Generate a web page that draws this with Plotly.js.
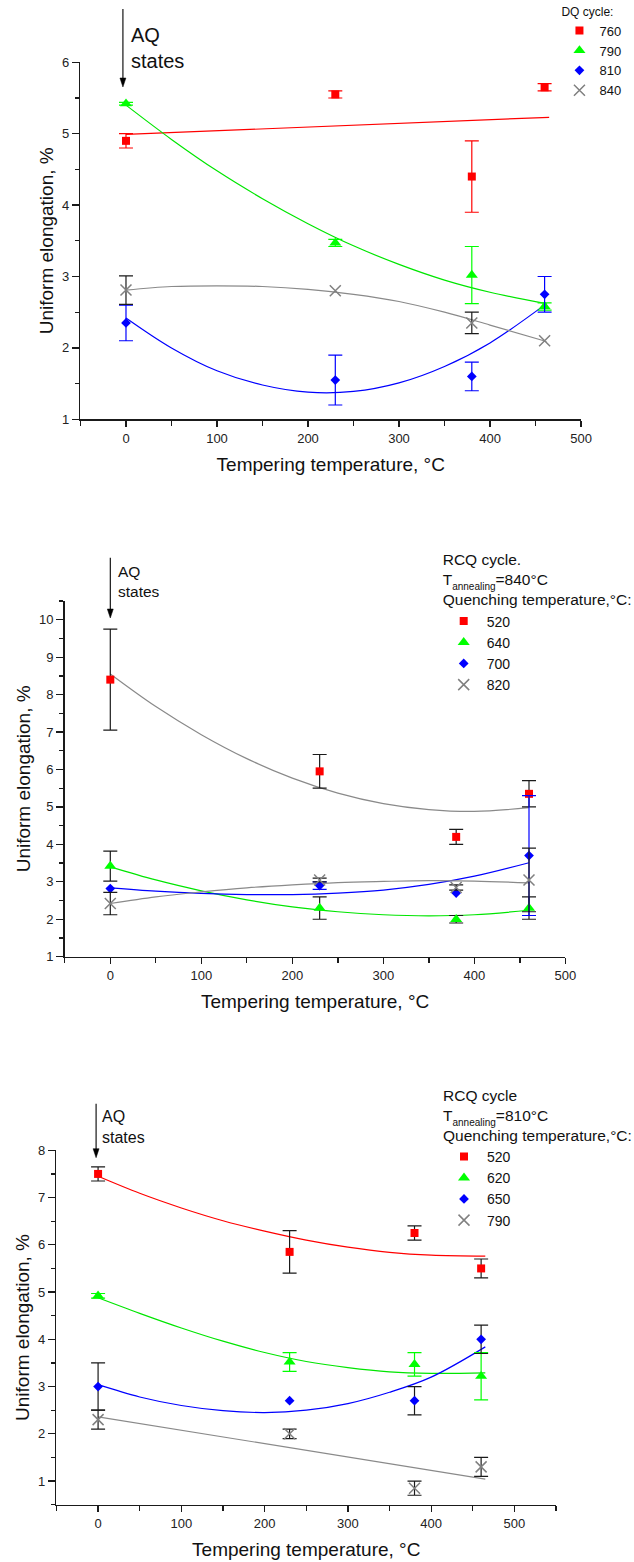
<!DOCTYPE html>
<html>
<head>
<meta charset="utf-8">
<script src="https://cdn.plot.ly/plotly-3.0.1.min.js"></script>
<style>
html,body{margin:0;padding:0;background:#fff}
#chart{width:634px;height:1562px}
</style>
</head>
<body>
<div id="chart"></div>
<script>
// ---------- data ----------
const temps = [0, 230, 380, 460];           // tempering temperature, °C

// Panel 1: DQ cycle
const dqNames = ['760', '790', '810', '840'];
const dq760 = [4.9, 5.55, 4.4, 5.65];
const dq760Err = [0.1, 0.05, 0.5, 0.05];
const dq790 = [5.42, 3.47, 3.02, 2.58];
const dq790Err = [0.02, 0.05, 0.4, 0.05];
const dq810 = [2.35, 1.55, 1.6, 2.75];
const dq810Err = [0.25, 0.35, 0.2, 0.25];
const dq840 = [2.81, 2.8, 2.35, 2.1];
const dq840Err = [0.2, NaN, 0.15, NaN];
// fitted curves
const fit760X = [0, 465];
const fit760Y = [4.99, 5.23];
const fitGrid1 = [0, 50, 100, 150, 200, 250, 300, 350, 400, 462];
const fit790Y = [5.40, 4.92, 4.48, 4.09, 3.74, 3.43, 3.17, 2.95, 2.78, 2.62];
const fit810Y = [2.42, 2.00, 1.68, 1.48, 1.38, 1.39, 1.51, 1.74, 2.07, 2.62];
const fit840Y = [2.81, 2.86, 2.87, 2.86, 2.82, 2.75, 2.65, 2.50, 2.32, 2.09];

// Panel 2: RCQ cycle, T annealing = 840 °C
const rcq840Names = ['520', '640', '700', '820'];
const a840q520 = [8.4, 5.95, 4.2, 5.35];
const a840q520Err = [1.35, 0.45, 0.2, 0.35];
const a840q640 = [3.42, 2.3, 2.0, 2.3];
const a840q640Err = [0.4, 0.3, 0.1, 0.3];
const a840q700 = [2.82, 2.9, 2.7, 3.7];
const a840q700Err = [NaN, 0.1, NaN, 1.6];
const a840q820 = [2.42, 3.05, 2.85, 3.05];
const a840q820Err = [0.3, 0.05, 0.07, 0.85];
const fitGrid2 = [0, 50, 100, 150, 200, 250, 300, 350, 400, 460];
const fitA840q520 = [8.55, 7.68, 6.93, 6.29, 5.77, 5.37, 5.09, 4.93, 4.88, 4.98];
const fitA840q640 = [3.40, 3.05, 2.76, 2.52, 2.33, 2.20, 2.12, 2.09, 2.12, 2.24];
const fitA840q700 = [2.84, 2.75, 2.69, 2.66, 2.66, 2.70, 2.78, 2.93, 3.15, 3.51];
const fitA840q820 = [2.42, 2.60, 2.73, 2.84, 2.92, 2.98, 3.01, 3.03, 3.02, 2.97];

// Panel 3: RCQ cycle, T annealing = 810 °C
const rcq810Names = ['520', '620', '650', '790'];
const a810q520 = [7.5, 5.85, 6.25, 5.5];
const a810q520Err = [0.15, 0.45, 0.15, 0.2];
const a810q620 = [4.92, 3.52, 3.47, 3.22];
const a810q620Err = [0.05, 0.2, 0.25, 0.5];
const a810q650 = [3.0, 2.7, 2.7, 4.0];
const a810q650Err = [0.5, NaN, 0.3, 0.3];
const a810q790 = [2.3, 2.0, 0.85, 1.3];
const a810q790Err = [0.2, 0.1, 0.15, 0.2];
const fitGrid3 = [0, 50, 100, 150, 200, 250, 300, 350, 400, 465];
const fitA810q520 = [7.45, 7.09, 6.78, 6.51, 6.29, 6.10, 5.95, 5.84, 5.78, 5.76];
const fitA810q620 = [4.88, 4.55, 4.24, 3.96, 3.72, 3.53, 3.40, 3.31, 3.28, 3.29];
const fitA810q650 = [3.04, 2.78, 2.60, 2.49, 2.45, 2.50, 2.64, 2.88, 3.20, 3.84];
const fitA810q790X = [0, 465];
const fitA810q790Y = [2.36, 1.04];

const xTitle = 'Tempering temperature, °C';
const yTitle = 'Uniform elongation, %';

// ---------- styling ----------
const W = 634, H = 1562;
const px = v => v / W;
const py = v => 1 - v / H;
const FONT = 'Liberation Sans, Arial, Helvetica, sans-serif';
const RED = '#ff0000', GREEN = '#00ff00', BLUE = '#0000ff', GRAY = '#808080';
const GREENLINE = '#00e600', GRAYLINE = '#8a8a8a', BLACK = '#1a1a1a';
const symbols = ['square', 'triangle-up', 'diamond', 'x-thin'];
const sizes = [8, 10.5, 7.5, 11];
const markColors = [RED, GREEN, BLUE, GRAY];

function markerTrace(name, y, err, k, errColor, xa, ya, leg) {
  const thin = symbols[k] === 'x-thin';
  return {
    type: 'scatter', mode: 'markers', name: name, x: temps, y: y,
    xaxis: xa, yaxis: ya, legend: leg,
    marker: {symbol: symbols[k], size: sizes[k], color: markColors[k],
             line: {color: markColors[k], width: thin ? 1.5 : 0}},
    error_y: {type: 'data', array: err, visible: true, color: errColor, thickness: 1.2, width: 7},
    cliponaxis: false
  };
}
function fitTrace(x, y, color, xa, ya) {
  return {type: 'scatter', mode: 'lines', x: x, y: y, xaxis: xa, yaxis: ya,
          showlegend: false, hoverinfo: 'skip',
          line: {color: color, width: 1.2, shape: 'spline'}};
}

const traces = [
  // panel 1 fits
  fitTrace(fit760X, fit760Y, RED, 'x', 'y'),
  fitTrace(fitGrid1, fit790Y, GREENLINE, 'x', 'y'),
  fitTrace(fitGrid1, fit810Y, BLUE, 'x', 'y'),
  fitTrace(fitGrid1, fit840Y, GRAYLINE, 'x', 'y'),
  // panel 1 points
  markerTrace(dqNames[0], dq760, dq760Err, 0, RED, 'x', 'y', 'legend'),
  markerTrace(dqNames[1], dq790, dq790Err, 1, GREEN, 'x', 'y', 'legend'),
  markerTrace(dqNames[2], dq810, dq810Err, 2, BLUE, 'x', 'y', 'legend'),
  markerTrace(dqNames[3], dq840, dq840Err, 3, BLACK, 'x', 'y', 'legend'),
  // panel 2 fits
  fitTrace(fitGrid2, fitA840q520, GRAYLINE, 'x2', 'y2'),
  fitTrace(fitGrid2, fitA840q640, GREENLINE, 'x2', 'y2'),
  fitTrace(fitGrid2, fitA840q700, BLUE, 'x2', 'y2'),
  fitTrace(fitGrid2, fitA840q820, GRAYLINE, 'x2', 'y2'),
  // panel 2 points
  markerTrace(rcq840Names[0], a840q520, a840q520Err, 0, BLACK, 'x2', 'y2', 'legend2'),
  markerTrace(rcq840Names[1], a840q640, a840q640Err, 1, BLACK, 'x2', 'y2', 'legend2'),
  markerTrace(rcq840Names[2], a840q700, a840q700Err, 2, BLUE, 'x2', 'y2', 'legend2'),
  markerTrace(rcq840Names[3], a840q820, a840q820Err, 3, BLACK, 'x2', 'y2', 'legend2'),
  // panel 3 fits
  fitTrace(fitGrid3, fitA810q520, RED, 'x3', 'y3'),
  fitTrace(fitGrid3, fitA810q620, GREENLINE, 'x3', 'y3'),
  fitTrace(fitGrid3, fitA810q650, BLUE, 'x3', 'y3'),
  fitTrace(fitA810q790X, fitA810q790Y, GRAYLINE, 'x3', 'y3'),
  // panel 3 points
  markerTrace(rcq810Names[0], a810q520, a810q520Err, 0, BLACK, 'x3', 'y3', 'legend3'),
  markerTrace(rcq810Names[1], a810q620, a810q620Err, 1, GREEN, 'x3', 'y3', 'legend3'),
  markerTrace(rcq810Names[2], a810q650, a810q650Err, 2, BLACK, 'x3', 'y3', 'legend3'),
  markerTrace(rcq810Names[3], a810q790, a810q790Err, 3, BLACK, 'x3', 'y3', 'legend3')
];

function xAxis(domain, range, anchor) {
  return {
    domain: domain, range: range, anchor: anchor, tick0: 0, dtick: 100,
    ticks: 'outside', ticklen: 6, tickwidth: 1.3, tickcolor: BLACK,
    showline: true, linecolor: BLACK, linewidth: 1.6,
    showgrid: false, zeroline: false,
    tickfont: {size: 13, color: '#222', family: FONT},
    minor: {dtick: 50, tick0: 0, ticks: 'outside', ticklen: 5, tickwidth: 1.3, tickcolor: BLACK},
    title: {text: xTitle, font: {size: 19, color: '#111', family: FONT}, standoff: 13},
    fixedrange: true
  };
}
function yAxis(domain, range, anchor) {
  return {
    domain: domain, range: range, anchor: anchor, tick0: 0, dtick: 1,
    ticks: 'outside', ticklen: 7, tickwidth: 1.3, tickcolor: BLACK,
    showline: true, linecolor: BLACK, linewidth: 1.6,
    showgrid: false, zeroline: false,
    tickfont: {size: 13, color: '#222', family: FONT},
    minor: {dtick: 0.5, tick0: 0, ticks: 'outside', ticklen: 4, tickwidth: 1.3, tickcolor: BLACK},
    title: {text: yTitle, font: {size: 19, color: '#111', family: FONT}, standoff: 3},
    fixedrange: true
  };
}
function legendCfg(x, top, itemSize, titleText, titleSize, itemW) {
  return {
    x: x, y: top, xanchor: 'left', yanchor: 'top',
    bgcolor: 'rgba(0,0,0,0)', borderwidth: 0, traceorder: 'normal',
    itemwidth: itemW,
    font: {size: itemSize, color: '#111', family: FONT},
    title: {text: titleText, side: 'top', font: {size: titleSize, color: '#111', family: FONT}}
  };
}
// subscript drawn with a baseline shift (no spacer text nodes)
const subAnnealing = '<span style="font-size:10px;baseline-shift:-5px">annealing</span>';

// "AQ states" marker arrows (drawn as shapes: shaft + filled head)
function arrowShapes(xp, tailY, tipY) {
  const headLen = 9, headHalf = 3;
  return [
    {type: 'line', xref: 'paper', yref: 'paper', x0: px(xp), x1: px(xp),
     y0: py(tailY), y1: py(tipY - headLen + 1), line: {color: '#000', width: 1.1}},
    {type: 'path', xref: 'paper', yref: 'paper',
     path: 'M ' + px(xp - headHalf) + ' ' + py(tipY - headLen) +
           ' L ' + px(xp + headHalf) + ' ' + py(tipY - headLen) +
           ' L ' + px(xp) + ' ' + py(tipY) + ' Z',
     fillcolor: '#000', line: {color: '#000', width: 0.5}}
  ];
}
function aqLabel(xp, midY, size) {
  return {xref: 'paper', yref: 'paper', x: px(xp), y: py(midY), xanchor: 'left', yanchor: 'middle',
          text: 'AQ<br>states', align: 'left', showarrow: false,
          font: {size: size, color: '#111', family: FONT}};
}

const layout = {
  width: W, height: H,
  margin: {l: 0, r: 0, t: 0, b: 0},
  paper_bgcolor: '#fff', plot_bgcolor: 'rgba(0,0,0,0)',
  font: {family: FONT, color: '#111'},
  showlegend: true,
  xaxis: xAxis([px(81), px(584.7)], [-50, 500], 'y'),
  yaxis: yAxis([py(419.3), py(62.3)], [1, 6], 'x'),
  xaxis2: xAxis([px(65.2), px(569)], [-50, 500], 'y2'),
  yaxis2: yAxis([py(956.7), py(601)], [1, 10.5], 'x2'),
  xaxis3: xAxis([px(56.8), px(559.6)], [-50, 550], 'y3'),
  yaxis3: yAxis([py(1504.7), py(1150.3)], [0.5, 8], 'x3'),
  legend: legendCfg(px(563), 1, 13, 'DQ cycle:', 12, 30),
  legend2: legendCfg(px(443.5), py(545), 14,
    'RCQ cycle.<br>T' + subAnnealing + '=840°C<br>Quenching temperature,°C:', 15.5, 36),
  legend3: legendCfg(px(444), py(1080.5), 14,
    'RCQ cycle<br>T' + subAnnealing + '=810°C<br>Quenching temperature,°C:', 15.5, 36),
  shapes: [].concat(
    arrowShapes(123.7, 9, 87),
    arrowShapes(111, 557.7, 618),
    arrowShapes(96.7, 1103.7, 1157.7)
  ),
  annotations: [
    aqLabel(130, 47.5, 20),
    aqLabel(117, 581.7, 15.5),
    aqLabel(101, 1127, 16)
  ]
};

Plotly.newPlot('chart', traces, layout, {displayModeBar: false, staticPlot: true});
</script>
</body>
</html>
